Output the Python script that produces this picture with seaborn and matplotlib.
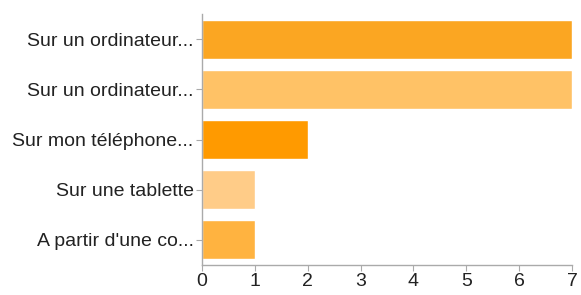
import matplotlib
matplotlib.use('Agg')
import matplotlib.pyplot as plt
import seaborn as sns
import pandas as pd

# Data
categories = ['Sur un ordinateur...', 'Sur un ordinateur...', 'Sur mon téléphone...',
              'Sur une tablette', "A partir d'une co..."]
counts = [7, 7, 2, 1, 1]
colors = ['#FBA622', '#FFC266', '#FF9A00', '#FFCC88', '#FFB340']

# the two first labels are identical, so use a position key for the bars
df = pd.DataFrame({'pos': range(len(categories)), 'Nombre': counts})

sns.set_style('white')
plt.rcParams['font.family'] = ['Liberation Sans', 'DejaVu Sans']

fig = plt.figure(figsize=(5.81, 2.95), dpi=100)
ax = fig.add_axes([0.3477, 0.1017, 0.637, 0.8508])

sns.barplot(data=df, x='Nombre', y='pos', hue='pos', palette=colors, orient='h',
            legend=False, width=0.78, ax=ax, saturation=1)

ax.set_yticks(range(len(categories)))
ax.set_yticklabels(categories)
ax.set_xlim(0, 7)
ax.set_ylim(4.5, -0.5)
ax.set_xticks(range(0, 8))
ax.set_xlabel('')
ax.set_ylabel('')

for s in ['top', 'right']:
    ax.spines[s].set_visible(False)
for s in ['left', 'bottom']:
    ax.spines[s].set_color('#aaaaaa')
    ax.spines[s].set_linewidth(1)

ax.tick_params(axis='both', which='major', length=4, color='#aaaaaa',
               labelsize=14, labelcolor='#222222', left=True, bottom=True, pad=2)

fig.savefig('out.png', dpi=100)
